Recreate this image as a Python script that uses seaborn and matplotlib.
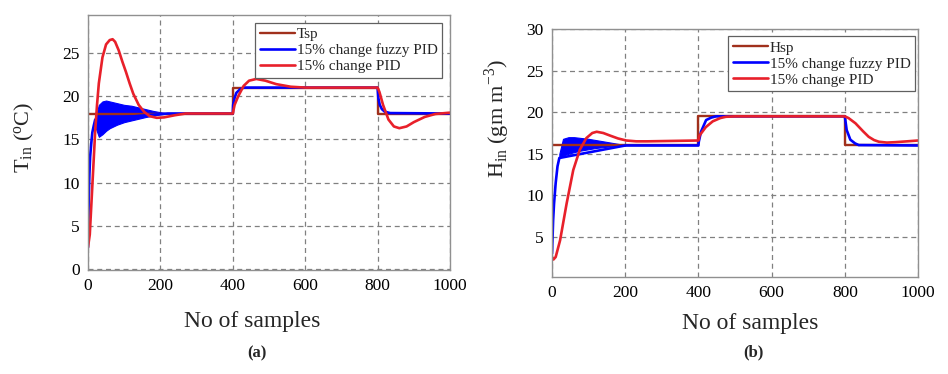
import matplotlib
matplotlib.use("Agg")
import matplotlib.pyplot as plt
import numpy as np
import pandas as pd
import seaborn as sns

# ---- panel (a): indoor temperature ----
T_SP_X = [0, 400, 400, 800, 800, 1000]
T_SP_Y = [18, 18, 21, 21, 18, 18]

T_FUZZY_X = [0, 2, 4, 6, 9, 12, 16, 20, 220, 400, 401, 405, 410, 420, 430, 800,
             802, 806, 812, 820, 835, 1000]
T_FUZZY_Y = [2.5, 8, 11, 13, 14.5, 15.8, 16.6, 17.3, 18, 18, 19, 19.8, 20.4, 20.8, 21, 21,
             19.8, 19, 18.5, 18.2, 18.05, 18]
# envelope of the fast oscillation of the fuzzy PID response
T_BAND_X = [20, 30, 40, 50, 60, 80, 100, 120, 140, 160, 180, 200, 220]
T_BAND_HI = [17.5, 19.0, 19.4, 19.5, 19.4, 19.2, 19.0, 18.9, 18.7, 18.5, 18.3, 18.15, 18.0]
T_BAND_LO = [16.5, 15.3, 15.6, 16.0, 16.3, 16.7, 17.0, 17.2, 17.4, 17.6, 17.75, 17.9, 18.0]

T_PID_X = [0, 5, 10, 15, 20, 25, 30, 40, 50, 60, 68, 75, 85, 95, 105, 115, 125, 140, 155,
           170, 190, 210, 240, 270, 400, 405, 415, 430, 445, 465, 490, 520, 560, 600, 800,
           805, 815, 830, 845, 860, 880, 900, 930, 960, 1000]
T_PID_Y = [2.5, 4, 8, 12, 16, 19, 21.5, 24.5, 26, 26.5, 26.6, 26.3, 25.3, 24, 22.8, 21.5,
           20.3, 19, 18.2, 17.7, 17.5, 17.55, 17.8, 18, 18, 19, 20, 21.2, 21.8, 22, 21.8,
           21.4, 21.1, 21, 21, 20.5, 19, 17.3, 16.5, 16.3, 16.5, 17, 17.6, 17.95, 18.1]

# ---- panel (b): indoor humidity ----
H_SP_X = [0, 400, 400, 800, 800, 1000]
H_SP_Y = [16, 16, 19.5, 19.5, 16, 16]

H_FUZZY_X = [0, 3, 5.5, 10, 15, 20, 200, 400, 401, 407, 421, 435, 448, 800, 805, 815,
             828, 838, 1000]
H_FUZZY_Y = [3, 7, 9, 11.5, 13.5, 14.5, 16, 16, 16.45, 17.65, 19.06, 19.35, 19.5, 19.5,
             17.86, 16.7, 16.25, 16.05, 16]
H_BAND_X = [20, 30, 45, 60, 80, 100, 120, 140, 160, 180, 200]
H_BAND_HI = [15.0, 16.8, 17.0, 17.0, 16.9, 16.8, 16.65, 16.5, 16.35, 16.2, 16.05]
H_BAND_LO = [14.5, 14.8, 15.0, 15.2, 15.4, 15.55, 15.7, 15.8, 15.9, 15.95, 16.0]

H_PID_X = [0, 4, 10, 22, 40, 58, 76, 94, 110, 122, 140, 158, 180, 203, 230, 260, 400,
           403, 420, 439, 460, 475, 500, 800, 810, 829, 850, 865, 880, 893, 915, 938,
           970, 1000]
H_PID_Y = [2.6, 2.3, 2.6, 4.6, 9.05, 13.05, 15.5, 16.9, 17.5, 17.65, 17.5, 17.2, 16.85,
           16.6, 16.5, 16.5, 16.6, 17.2, 18.2, 18.9, 19.3, 19.45, 19.5, 19.5, 19.3, 18.67,
           17.7, 17.05, 16.65, 16.45, 16.35, 16.4, 16.5, 16.6]

LABELS = ["Tsp", "15% change fuzzy PID", "15% change PID"]
H_LABELS = ["Hsp", "15% change fuzzy PID", "15% change PID"]

SP_COLOR = "#a0301c"
FUZZY_COLOR = "#0000ff"
PID_COLOR = "#e8202a"

sns.set_theme(style="white")
plt.rcParams["font.family"] = ["Liberation Serif", "DejaVu Serif"]
plt.rcParams["mathtext.fontset"] = "custom"
plt.rcParams["mathtext.rm"] = "Liberation Serif"


def draw_panel(ax, sp, fuzzy, band, pid, labels):
    sns.lineplot(x=sp[0], y=sp[1], ax=ax, color=SP_COLOR, lw=1.7, estimator=None,
                 sort=False, label=labels[0])
    sns.lineplot(x=fuzzy[0], y=fuzzy[1], ax=ax, color=FUZZY_COLOR, lw=1.9, estimator=None,
                 sort=False, label=labels[1])
    ax.fill_between(band[0], band[2], band[1], color=FUZZY_COLOR, lw=0.8)
    sns.lineplot(x=pid[0], y=pid[1], ax=ax, color=PID_COLOR, lw=1.9, estimator=None,
                 sort=False, label=labels[2])
    ax.set_xlim(0, 1000)
    ax.set_xticks([0, 200, 400, 600, 800, 1000])
    ax.set_xlabel("")
    ax.set_ylabel("")
    ax.grid(True, color="#808080", linestyle=(0, (4, 3)), linewidth=0.9)
    for s in ax.spines.values():
        s.set_color("#909090")
        s.set_linewidth(1.0)
    ax.tick_params(direction="in", length=4, color="#909090", labelsize=12.5,
                   pad=6, labelcolor="black")


fig = plt.figure(figsize=(9.48, 3.74), dpi=100)
ax1 = fig.add_axes([0.0928, 0.278, 0.3819, 0.6818])
ax2 = fig.add_axes([0.5823, 0.2594, 0.3861, 0.6631])

draw_panel(ax1, (T_SP_X, T_SP_Y), (T_FUZZY_X, T_FUZZY_Y),
           (T_BAND_X, T_BAND_HI, T_BAND_LO), (T_PID_X, T_PID_Y), LABELS)
ax1.set_ylim(-0.12, 29.4)
ax1.set_yticks([0, 5, 10, 15, 20, 25])

draw_panel(ax2, (H_SP_X, H_SP_Y), (H_FUZZY_X, H_FUZZY_Y),
           (H_BAND_X, H_BAND_HI, H_BAND_LO), (H_PID_X, H_PID_Y), H_LABELS)
ax2.set_ylim(0.2, 30)
ax2.set_yticks([5, 10, 15, 20, 25, 30])

leg_kw = dict(fontsize=11, frameon=True, fancybox=False, handlelength=2.3,
              handletextpad=0.1, labelspacing=0.15, borderpad=0.3,
              edgecolor="#606060", framealpha=1)
l1 = ax1.legend(loc="upper right", bbox_to_anchor=(0.978, 0.97), borderaxespad=0, **leg_kw)
l2 = ax2.legend(loc="upper right", bbox_to_anchor=(0.992, 0.97), borderaxespad=0, **leg_kw)
for lg in (l1, l2):
    lg.get_frame().set_linewidth(0.9)

fig.text(252 / 948, 1 - 322 / 374, "No of samples", ha="center", va="center", fontsize=17)
fig.text(750 / 948, 1 - 324 / 374, "No of samples", ha="center", va="center", fontsize=17)
fig.text(257 / 948, 1 - 353 / 374, "(a)", ha="center", va="center", fontsize=12,
         fontweight="bold")
fig.text(753 / 948, 1 - 352 / 374, "(b)", ha="center", va="center", fontsize=12,
         fontweight="bold")
fig.text(24 / 948, 1 - 137 / 374, r"T$_\mathregular{in}$ ($\mathregular{^o}$C)", rotation=90,
         ha="center", va="center", fontsize=16)
fig.text(497 / 948, 1 - 118 / 374, r"H$_\mathregular{in}$ (gm m$^\mathregular{-3}$)",
         rotation=90, ha="center", va="center", fontsize=16)

fig.savefig("out.png", dpi=100)
